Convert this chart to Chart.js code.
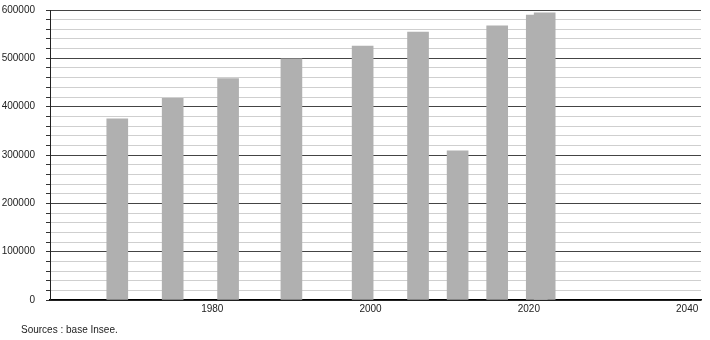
<!DOCTYPE html>
<html>
<head>
<meta charset="utf-8">
<script src="https://cdn.jsdelivr.net/npm/chart.js@4/dist/chart.umd.min.js"></script>
<style>
  body { margin: 0; background: #fff; }
  #wrap { position: relative; width: 710px; height: 340px; }
  #note {
    position: absolute; left: 21px; top: 325px;
    font: 10px "Liberation Sans", Arial, sans-serif; line-height: 10px; color: #222;
  }
</style>
</head>
<body>
<div id="wrap">
  <canvas id="chart"></canvas>
  <div id="note">Sources : base Insee.</div>
</div>
<script>
// census years and population
const years = [1968, 1975, 1982, 1990, 1999, 2006, 2011, 2016, 2021, 2022];
const population = [375000, 417000, 458000, 499000, 525500, 554500, 308500, 567000, 589500, 594000];
const xTicks = [1980, 2000, 2020, 2040];
const yLabels = [0, 100000, 200000, 300000, 400000, 500000, 600000];

const points = years.map((y, i) => ({ x: y, y: population[i] }));
const font = { family: "'Liberation Sans', Arial, sans-serif", size: 10 };

new Chart(document.getElementById("chart"), {
  type: "bar",
  data: {
    datasets: [
      {
        data: points,
        backgroundColor: "#b0b0b0",
        borderWidth: 0,
        barThickness: 21,
      },
    ],
  },
  options: {
    responsive: true,
    maintainAspectRatio: false,
    animation: false,
    layout: { padding: { top: 10, right: 9, bottom: 20, left: 0 } },
    plugins: { legend: { display: false }, tooltip: { enabled: false } },
    scales: {
      x: {
        type: "linear",
        offset: false,
        min: 1959.5,
        max: 2041.75,
        afterBuildTicks: (scale) => {
          scale.ticks = xTicks.map((v) => ({ value: v }));
        },
        afterFit: (scale) => {
          scale.height = 20;
        },
        grid: { display: false, drawTicks: false },
        border: { display: true, color: "#000", width: 1.5 },
        ticks: {
          font: font,
          color: "#222",
          padding: 3,
          maxRotation: 0,
          callback: (v) => String(v),
        },
      },
      y: {
        min: 0,
        max: 600000,
        afterFit: (scale) => {
          scale.width = 50;
          scale.paddingTop = 6;
          scale.paddingBottom = 6;
        },
        grid: {
          color: (ctx) => (ctx.tick && ctx.tick.value % 100000 === 0 ? "#444" : "#cfcfcf"),
          tickColor: "#333",
          tickLength: 4,
        },
        border: { display: true, color: "#222", width: 1 },
        ticks: {
          stepSize: 20000,
          font: font,
          color: "#222",
          padding: 11,
          autoSkip: false,
          callback: (v) => (yLabels.includes(v) ? String(v) : ""),
        },
      },
    },
  },
});
</script>
</body>
</html>
